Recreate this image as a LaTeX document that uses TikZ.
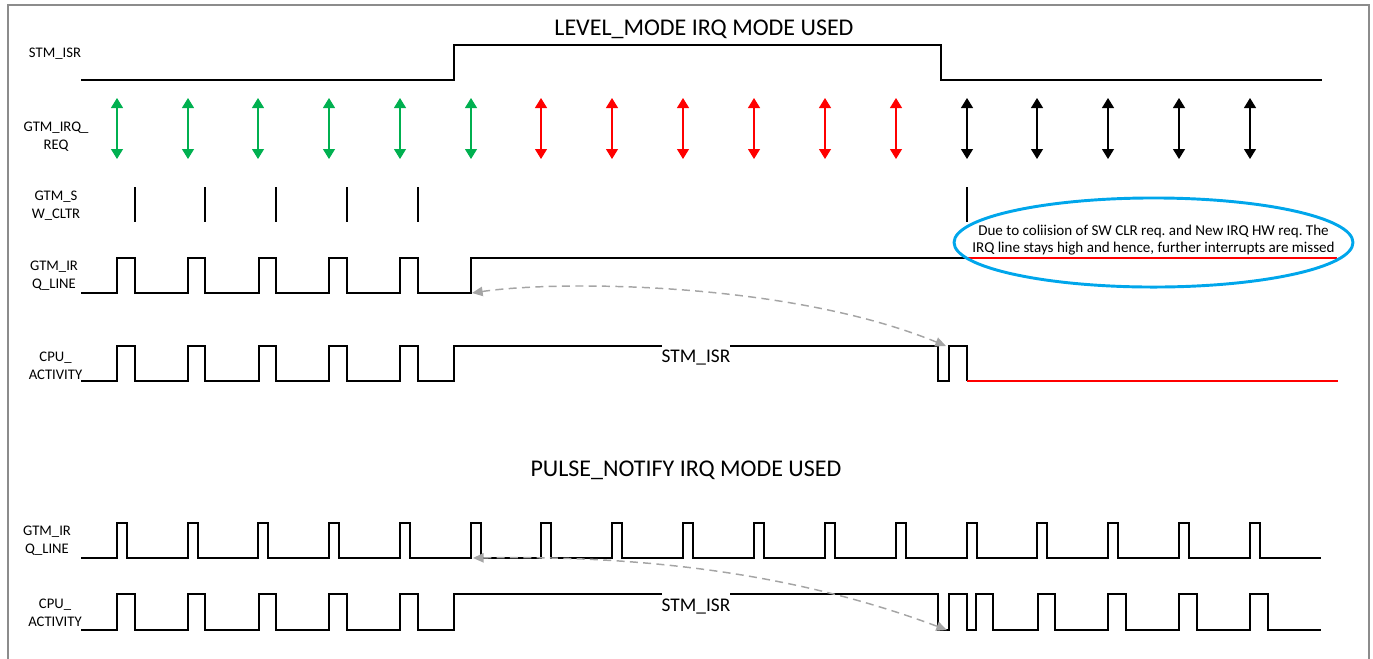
\documentclass[tikz,border=0pt]{standalone}
\usepackage{fontspec}
\setmainfont{Carlito}
\usepackage{xcolor}
\usetikzlibrary{positioning,arrows.meta}
\definecolor{irqgreen}{RGB}{0,176,80}
\definecolor{irqred}{RGB}{255,0,0}
\definecolor{noteblue}{RGB}{0,166,235}
\definecolor{linkgray}{RGB}{165,165,165}
\definecolor{framegray}{RGB}{140,140,140}
\frenchspacing

\begin{document}
\begin{tikzpicture}[
    x=0.75pt, y=-0.75pt,
    sig/.style={line width=1.3pt},
    req/.style={line width=0.9pt, {Triangle[width=9pt,length=7.5pt]}-{Triangle[width=9pt,length=7.5pt]}},
    clr/.style={line width=1.1pt},
    link/.style={linkgray, line width=1.1pt, dash pattern=on 6pt off 4pt,
      {Triangle[width=7pt,length=8pt]}-{Triangle[width=7pt,length=8pt]}},
    lbl/.style={font=\fontsize{11}{13.5}\selectfont, align=center},
    ttl/.style={font=\fontsize{18}{22}\selectfont},
    isr/.style={font=\fontsize{14.5}{17}\selectfont, fill=white, inner xsep=0pt, minimum height=22pt}
  ]
  \useasboundingbox (0,0) rectangle (1373,658);
  \draw[framegray, line width=1.5pt] (8,670) -- (8,5) -- (1369,5) -- (1369,670);

  % level mode
  \node[ttl] (lvltitle) at (704,29) {LEVEL\_MODE IRQ MODE USED};
  \node[lbl] (lblisr) at (55,54) {STM\_ISR};
  \node[lbl] (lblreq) at (56,137) {GTM\_IRQ\_\\REQ};
  \node[lbl] (lblclr) at (56,205.5) {GTM\_S\\W\_CLTR};
  \node[lbl] (lblirq) at (54,275.5) {GTM\_IR\\Q\_LINE};
  \node[lbl] (lblcpu) at (55.5,366) {CPU\_\\ACTIVITY};

  \draw[sig] (81,80) -| (454,45) -| (941,80) -- (1322,80);

  \foreach \x in {117,188,258,329,400,471}
    \draw[req, irqgreen] (\x,98) -- (\x,159);
  \foreach \x in {541,612,683,754,825,896}
    \draw[req, irqred] (\x,98) -- (\x,159);
  \foreach \x in {967,1037,1108,1179,1250}
    \draw[req] (\x,98) -- (\x,159);

  \foreach \x in {135,205,276,347,418,967}
    \draw[clr] (\x,187) -- (\x,222);

  \draw[sig] (81,293) -| (117,258) -| (135,293) -| (188,258) -| (205,293)
    -| (259,258) -| (276,293) -| (329,258) -| (347,293) -| (400,258)
    -| (418,293) -| (471,258) -- (967,258);
  \draw[sig, irqred] (967,258) -- (1337,258);

  \draw[sig] (81,381) -| (117,346) -| (135,381) -| (188,346) -| (205,381)
    -| (259,346) -| (276,381) -| (329,346) -| (347,381) -| (400,346)
    -| (418,381) -| (454,346) -| (938,381) -| (949,346) -| (967,381);
  \draw[sig, irqred] (967,381) -- (1338,381);
  \node[isr] (lvlisr) at (696,358) {STM\_ISR};

  \coordinate (lvlirq) at (472,293);
  \coordinate (lvlcpu) at (946,346);
  \draw[link] (lvlirq) .. controls (560,280) and (790,282) .. (lvlcpu);

  \draw[noteblue, line width=2.2pt] (1153.5,242.5) ellipse [x radius=149.6pt, y radius=33.4pt];
  \node[lbl, font=\fontsize{11.3}{12.75}\selectfont] (note) at (1153.5,240.5)
    {Due to coliision of SW CLR req. and New IRQ HW req. The\\IRQ line stays high and hence, further interrupts are missed};

  % pulse notify mode
  \node[ttl] (pnttitle) at (686,470) {PULSE\_NOTIFY IRQ MODE USED};
  \node[lbl] (lblirqp) at (47,541) {GTM\_IR\\Q\_LINE};
  \node[lbl] (lblcpup) at (55,612.5) {CPU\_\\ACTIVITY};

  \draw[sig] (81,558)
    \foreach \x in {117,188,258,329,400,471,541,612,683,754,825,896,967,1037,1108,1179,1250}
      { -| (\x,523) -| (\x+10,558) } -- (1321,558);

  \draw[sig] (81,630) -| (117,594) -| (135,630) -| (188,594) -| (205,630)
    -| (259,594) -| (276,630) -| (329,594) -| (347,630) -| (400,594)
    -| (418,630) -| (454,594) -| (938,630) -| (949,594) -| (967,630)
    -| (976,594) -| (993,630) -| (1038,594) -| (1055,630) -| (1108,594)
    -| (1126,630) -| (1179,594) -| (1197,630) -| (1250,594) -| (1268,630)
    -- (1321,630);
  \node[isr] (pntisr) at (696,607) {STM\_ISR};

  \coordinate (pntirq) at (473,558);
  \coordinate (pntcpu) at (947,630);
  \draw[link] (pntirq) .. controls (650,555) and (800,575) .. (pntcpu);
\end{tikzpicture}
\end{document}
